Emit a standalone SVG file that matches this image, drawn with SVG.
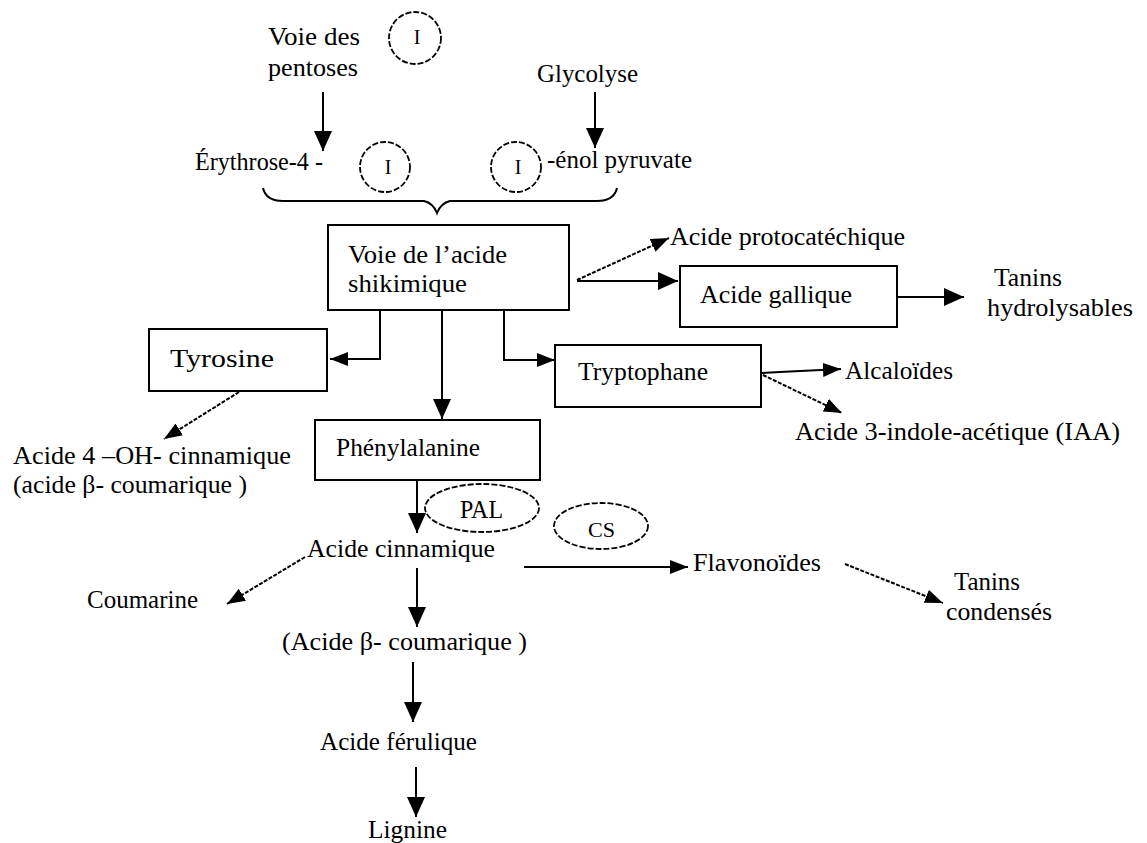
<svg xmlns="http://www.w3.org/2000/svg" width="1147" height="843" viewBox="0 0 1147 843">
<style>
text{font-family:"Liberation Serif","Times New Roman",serif;font-size:25px;fill:#000}
.sm{font-size:20px}
.box{fill:#fff;stroke:#000;stroke-width:2}
.enz{fill:none;stroke:#000;stroke-width:1.8;stroke-dasharray:6 2}
.ln{fill:none;stroke:#000;stroke-width:2}
.dash{fill:none;stroke:#000;stroke-width:2;stroke-dasharray:4 1.5}
</style>
<defs>
<marker id="ah" viewBox="0 0 20 18" refX="20" refY="9" markerWidth="20" markerHeight="18" markerUnits="userSpaceOnUse" orient="auto"><path d="M0,0 L20,9 L0,18 z" fill="#000"/></marker>
<marker id="ahs" viewBox="0 0 18 14" refX="18" refY="7" markerWidth="18" markerHeight="14" markerUnits="userSpaceOnUse" orient="auto"><path d="M0,0 L18,7 L0,14 z" fill="#000"/></marker>
</defs>
<rect width="1147" height="843" fill="#fff"/>

<g id="connectors">
<line class="ln" x1="323" y1="92" x2="323" y2="151" marker-end="url(#ah)"/>
<line class="ln" x1="595" y1="92" x2="595" y2="148" marker-end="url(#ah)"/>
<path class="ln" d="M263,188 Q266,201 283,201 L424,201 Q433,203 437,213 Q441,203 450,201 L597,201 Q614,201 617,188" stroke-width="1.8"/>
<line class="dash" x1="577" y1="280" x2="669" y2="238" marker-end="url(#ahs)"/>
<line class="ln" x1="577" y1="281" x2="678" y2="281" marker-end="url(#ah)"/>
<line class="ln" x1="893" y1="297" x2="964" y2="297" marker-end="url(#ah)"/>
<polyline class="ln" points="380,310 380,359 330,359" marker-end="url(#ahs)"/>
<line class="ln" x1="442" y1="310" x2="442" y2="419" marker-end="url(#ah)"/>
<polyline class="ln" points="504,310 504,360 555,360" marker-end="url(#ahs)"/>
<polyline class="ln" points="762,373 780,372 841,369" marker-end="url(#ahs)"/>
<line class="dash" x1="763" y1="375" x2="842" y2="413" marker-end="url(#ahs)"/>
<line class="dash" x1="239" y1="392" x2="164" y2="439" marker-end="url(#ahs)"/>
<line class="ln" x1="417" y1="480" x2="417" y2="533" marker-end="url(#ah)"/>
<line class="dash" x1="305" y1="557" x2="227" y2="604" marker-end="url(#ahs)"/>
<line class="ln" x1="417" y1="568" x2="417" y2="627" marker-end="url(#ah)"/>
<line class="ln" x1="524" y1="567" x2="688" y2="567" marker-end="url(#ahs)"/>
<line class="dash" x1="845" y1="564" x2="943" y2="603" marker-end="url(#ahs)"/>
<line class="ln" x1="413" y1="662" x2="413" y2="722" marker-end="url(#ah)"/>
<line class="ln" x1="416" y1="767" x2="416" y2="817" marker-end="url(#ah)"/>
</g>

<g id="voie-pentoses">
<text x="268" y="45" textLength="92" lengthAdjust="spacingAndGlyphs">Voie des</text>
<text x="268" y="76" textLength="90" lengthAdjust="spacingAndGlyphs">pentoses</text>
</g>
<g id="inhib-top"><circle class="enz" cx="415" cy="38" r="26"/><text class="sm" x="417" y="44" text-anchor="middle">I</text></g>
<g id="glycolyse"><text x="537" y="82" textLength="101" lengthAdjust="spacingAndGlyphs">Glycolyse</text></g>
<g id="erythrose"><text x="195" y="170" textLength="128" lengthAdjust="spacingAndGlyphs">Érythrose-4 -</text></g>
<g id="inhib-left"><circle class="enz" cx="385" cy="167" r="25"/><text class="sm" x="388" y="174" text-anchor="middle">I</text></g>
<g id="inhib-right"><circle class="enz" cx="516" cy="167" r="25"/><text class="sm" x="518" y="174" text-anchor="middle">I</text></g>
<g id="enol-pyruvate"><text x="547" y="168" textLength="145" lengthAdjust="spacingAndGlyphs">-énol pyruvate</text></g>

<g id="shikimique">
<rect class="box" x="328" y="225" width="241" height="85"/>
<text x="348" y="263" textLength="159" lengthAdjust="spacingAndGlyphs">Voie de l’acide</text>
<text x="348" y="292" textLength="119" lengthAdjust="spacingAndGlyphs">shikimique</text>
</g>
<g id="protocatechique"><text x="670" y="245" textLength="235" lengthAdjust="spacingAndGlyphs">Acide protocatéchique</text></g>
<g id="gallique">
<rect class="box" x="680" y="266" width="217" height="61"/>
<text x="700" y="303" textLength="152" lengthAdjust="spacingAndGlyphs">Acide gallique</text>
</g>
<g id="tanins-hydrolysables">
<text x="994" y="286" textLength="68" lengthAdjust="spacingAndGlyphs">Tanins</text>
<text x="987" y="316" textLength="146" lengthAdjust="spacingAndGlyphs">hydrolysables</text>
</g>
<g id="tyrosine">
<rect class="box" x="149" y="329" width="178" height="62"/>
<text x="170" y="367" textLength="104" lengthAdjust="spacingAndGlyphs">Tyrosine</text>
</g>
<g id="tryptophane">
<rect class="box" x="555" y="345" width="206" height="62"/>
<text x="578" y="380" textLength="130" lengthAdjust="spacingAndGlyphs">Tryptophane</text>
</g>
<g id="alcaloides"><text x="845" y="379" textLength="108" lengthAdjust="spacingAndGlyphs">Alcaloïdes</text></g>
<g id="iaa"><text x="795" y="440" textLength="325" lengthAdjust="spacingAndGlyphs">Acide 3-indole-acétique (IAA)</text></g>
<g id="acide-4oh">
<text x="13" y="464" textLength="278" lengthAdjust="spacingAndGlyphs">Acide 4 –OH- cinnamique</text>
<text x="13" y="493" textLength="234" lengthAdjust="spacingAndGlyphs">(acide β- coumarique )</text>
</g>
<g id="phenylalanine">
<rect class="box" x="315" y="420" width="225" height="60"/>
<text x="336" y="456" textLength="144" lengthAdjust="spacingAndGlyphs">Phénylalanine</text>
</g>
<g id="pal"><ellipse class="enz" cx="482" cy="508" rx="57" ry="24"/><text x="460" y="518" font-size="22" textLength="43" lengthAdjust="spacingAndGlyphs">PAL</text></g>
<g id="cs"><ellipse class="enz" cx="601" cy="526" rx="47" ry="23"/><text x="588" y="537" class="sm" textLength="27" lengthAdjust="spacingAndGlyphs">CS</text></g>
<g id="acide-cinnamique"><text x="307" y="557" textLength="188" lengthAdjust="spacingAndGlyphs">Acide cinnamique</text></g>
<g id="flavonoides"><text x="693" y="571" textLength="128" lengthAdjust="spacingAndGlyphs">Flavonoïdes</text></g>
<g id="coumarine"><text x="87" y="608" textLength="111" lengthAdjust="spacingAndGlyphs">Coumarine</text></g>
<g id="tanins-condenses">
<text x="954" y="590" textLength="66" lengthAdjust="spacingAndGlyphs">Tanins</text>
<text x="946" y="620" textLength="106" lengthAdjust="spacingAndGlyphs">condensés</text>
</g>
<g id="acide-coumarique"><text x="282" y="650" textLength="245" lengthAdjust="spacingAndGlyphs">(Acide β- coumarique )</text></g>
<g id="acide-ferulique"><text x="320" y="750" textLength="157" lengthAdjust="spacingAndGlyphs">Acide férulique</text></g>
<g id="lignine"><text x="368" y="838" textLength="79" lengthAdjust="spacingAndGlyphs">Lignine</text></g>
</svg>
